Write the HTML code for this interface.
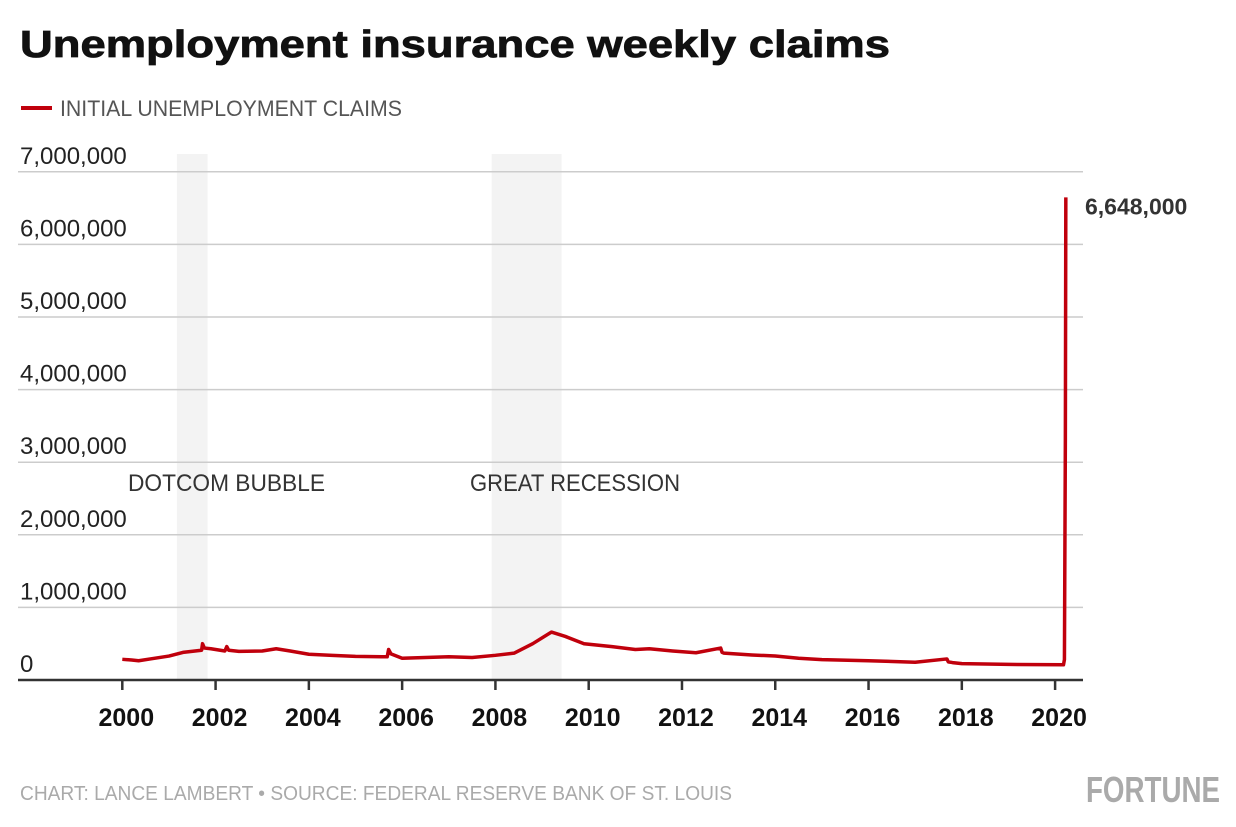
<!DOCTYPE html>
<html><head><meta charset="utf-8"><style>
body{margin:0;background:#fff;width:1236px;height:822px;overflow:hidden;font-family:"Liberation Sans",sans-serif}
</style></head><body>
<svg width="1236" height="822" xmlns="http://www.w3.org/2000/svg">
<text x="20" y="57" font-size="38" font-weight="bold" fill="#111" textLength="870" lengthAdjust="spacingAndGlyphs" stroke="#111" stroke-width="0.8">Unemployment insurance weekly claims</text>
<g>
<line x1="21" y1="108" x2="52" y2="108" stroke="#c0000c" stroke-width="4"/>
<text x="60" y="116" font-size="22" fill="#555" textLength="342" lengthAdjust="spacingAndGlyphs">INITIAL UNEMPLOYMENT CLAIMS</text>
</g>
<g id="shade"></g>
<g id="grid"></g>
<g id="xaxis"></g>
<g id="series"></g>
<text x="20" y="800" font-size="20" fill="#aaa" textLength="712" lengthAdjust="spacingAndGlyphs">CHART: LANCE LAMBERT • SOURCE: FEDERAL RESERVE BANK OF ST. LOUIS</text>
<text x="1086" y="802" font-size="36" font-weight="bold" fill="#aaa" textLength="134" lengthAdjust="spacingAndGlyphs">FORTUNE</text>
</svg>
<script>
const yTicks=[0,1000000,2000000,3000000,4000000,5000000,6000000,7000000];
const yTickLabels=["0","1,000,000","2,000,000","3,000,000","4,000,000","5,000,000","6,000,000","7,000,000"];
const xTicks=[2000,2002,2004,2006,2008,2010,2012,2014,2016,2018,2020];
const recessionNames=["DOTCOM BUBBLE","GREAT RECESSION"];
const recessionStart=[2001.17,2007.92];
const recessionEnd=[2001.83,2009.42];
const dates=[2000.0,2000.2,2000.35,2000.6,2001.0,2001.3,2001.7,2001.72,2001.76,2001.9,2002.2,2002.24,2002.28,2002.5,2003.0,2003.3,2003.6,2004.0,2004.5,2005.0,2005.68,2005.71,2005.76,2006.0,2006.5,2007.0,2007.5,2008.0,2008.4,2008.8,2009.2,2009.5,2009.9,2010.5,2011.0,2011.3,2011.8,2012.3,2012.83,2012.86,2012.9,2013.5,2014.0,2014.5,2015.0,2016.0,2017.0,2017.68,2017.71,2017.8,2018.0,2019.0,2020.18,2020.2,2020.22,2020.23];
const claims=[285000,275000,265000,290000,330000,380000,410000,500000,440000,430000,400000,460000,410000,395000,400000,430000,400000,355000,340000,325000,320000,420000,360000,300000,310000,320000,310000,340000,370000,500000,660000,600000,500000,460000,420000,430000,400000,375000,440000,380000,370000,345000,330000,300000,280000,265000,245000,290000,250000,240000,225000,215000,210000,281000,3307000,6648000];
const NS="http://www.w3.org/2000/svg";
const X0=18,X1=1083;
const xs=y=>122.3+(y-2000)*46.64;
const ys=v=>680-v*72.6/1000000;
function mk(t,a,p){const e=document.createElementNS(NS,t);for(const k in a)e.setAttribute(k,a[k]);p.appendChild(e);return e;}
const shade=document.getElementById('shade'),grid=document.getElementById('grid'),xa=document.getElementById('xaxis'),ser=document.getElementById('series');
const labelX=[128,470],labelW=[197,210];
recessionStart.forEach((s,i)=>{
 const r=mk('rect',{x:xs(s),y:154,width:xs(recessionEnd[i])-xs(s),height:526,fill:'#f3f3f3'},shade);
 
 
 const t=mk('text',{x:labelX[i],y:491,'font-size':24,fill:'#333',textLength:labelW[i],lengthAdjust:'spacingAndGlyphs'},shade);
 
 
 t.textContent=recessionNames[i];
});
yTicks.forEach((v,i)=>{
 if(i>0){const l=mk('line',{x1:X0,x2:X1,y1:ys(v),y2:ys(v),stroke:'#ccc','stroke-width':1.5},grid);
 
 }
 const t=mk('text',{x:20,y:ys(v)-8,'font-size':24,fill:'#222'},grid);
 
 
 t.textContent=yTickLabels[i];
});
const ax=mk('line',{x1:X0,x2:X1,y1:680,y2:680,stroke:'#333','stroke-width':2.5},xa);


xTicks.forEach(y=>{
 const l=mk('line',{x1:xs(y),x2:xs(y),y1:680,y2:690,stroke:'#333','stroke-width':2.5},xa);
 
 
 const t=mk('text',{x:xs(y)+4,y:726,'font-size':25,'font-weight':'bold',fill:'#111','text-anchor':'middle'},xa);
 
 
 t.textContent=y;
});
const p=mk('polyline',{points:dates.map((d,i)=>xs(d)+','+ys(claims[i])).join(' '),fill:'none',stroke:'#c0000c','stroke-width':3.5,'stroke-linejoin':'round'},ser);


const last=claims.length-1;
const lb=mk('text',{x:1085,y:ys(claims[last])+17,'font-size':23,'font-weight':'bold',fill:'#333'},ser);


lb.textContent=claims[last].toLocaleString('en-US');
</script>
</body></html>
